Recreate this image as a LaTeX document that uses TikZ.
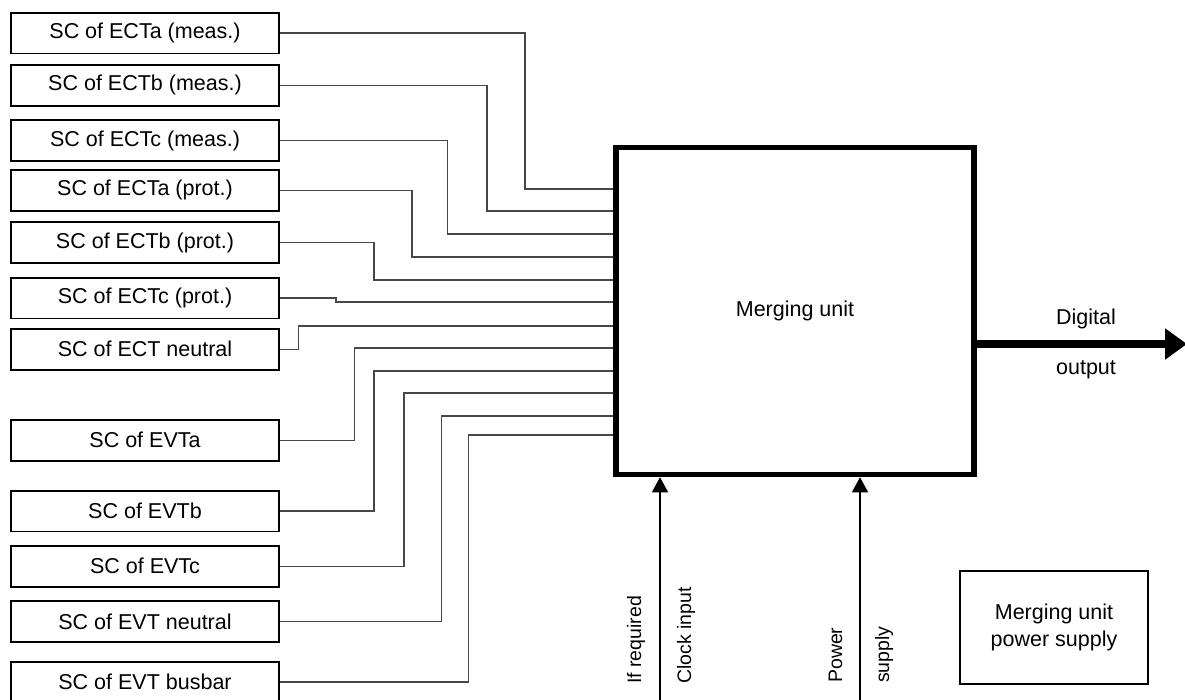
\documentclass[tikz,border=0pt]{standalone}
\usepackage{fontspec}
\setmainfont{Liberation Sans}
\usetikzlibrary{arrows.meta,calc}
\begin{document}
\begin{tikzpicture}[x=1pt,y=-1pt,
  mainfont/.style={font=\fontsize{21.5}{27}\selectfont},
  scbox/.style={draw,line width=1.8pt,minimum width=268pt,minimum height=40.8pt,inner sep=0pt,mainfont},
  wire/.style={draw=black!72,line width=1.3pt},
  vlabel/.style={rotate=90,anchor=base west,inner sep=0pt,font=\fontsize{19.5}{24}\selectfont},
  inarrow/.style={line width=1.5pt,-{Triangle[length=15pt,width=16pt]}}]
\clip (0,0) rectangle (1185,699);
\fill[white] (0,0) rectangle (1185,699);

% left boxes
\node[scbox] (b1)  at (145,33)    {SC of ECTa (meas.)};
\node[scbox] (b2)  at (145,85.3)  {SC of ECTb (meas.)};
\node[scbox] (b3)  at (145,140.7) {SC of ECTc (meas.)};
\node[scbox] (b4)  at (145,190.3) {SC of ECTa (prot.)};
\node[scbox] (b5)  at (145,242.7) {SC of ECTb (prot.)};
\node[scbox] (b6)  at (145,298)   {SC of ECTc (prot.)};
\node[scbox] (b7)  at (145,349.3) {SC of ECT neutral};
\node[scbox] (b8)  at (145,440.2) {SC of EVTa};
\node[scbox] (b9)  at (145,511)   {SC of EVTb};
\node[scbox] (b10) at (145,566.2) {SC of EVTc};
\node[scbox] (b11) at (145,621.7) {SC of EVT neutral};
\node[scbox] (b12) at (145,682)   {SC of EVT busbar};

% merging unit
\node[draw,line width=5.5pt,minimum width=358pt,minimum height=327pt,inner sep=0pt,mainfont] (mu) at (795,311) {Merging unit};

% connectors
\foreach \b/\xv/\ye in {b1/525/189, b2/487/211, b3/447.6/234, b4/412/257, b5/374/280, b6/336/302, b7/298.5/326, b8/354.7/348, b9/374/371, b10/404/393, b11/441.7/416, b12/468.6/435}{
  \coordinate (e) at (\xv,\ye);
  \draw[wire] (\b.east) -| (e) -- (e -| mu.west);
}

% digital output
\coordinate (dout) at (1187,344);
\draw[line width=8pt,-{Triangle[length=22pt,width=30pt]}] (dout -| mu.east) -- (dout);
\node[mainfont] (dig) at (1086,319) {Digital};
\node[mainfont] (outl) at (1086,370) {output};

% bottom inputs
\coordinate (clk) at (660,705);
\coordinate (pwr) at (860,705);
\draw[inarrow] (clk) -- (clk |- mu.south);
\draw[inarrow] (pwr) -- (pwr |- mu.south);
\node[vlabel] (ifr) at (641,684) {If required};
\node[vlabel] (cki) at (691,684) {Clock input};
\node[vlabel] (pw1) at (842,683) {Power};
\node[vlabel] (pw2) at (889,683) {supply};

% power supply box
\node[draw,line width=1.5pt,minimum width=188pt,minimum height=113pt,inner sep=0pt,align=center,mainfont] (ps) at (1054,627.5) {Merging unit\\power supply};
\end{tikzpicture}
\end{document}
